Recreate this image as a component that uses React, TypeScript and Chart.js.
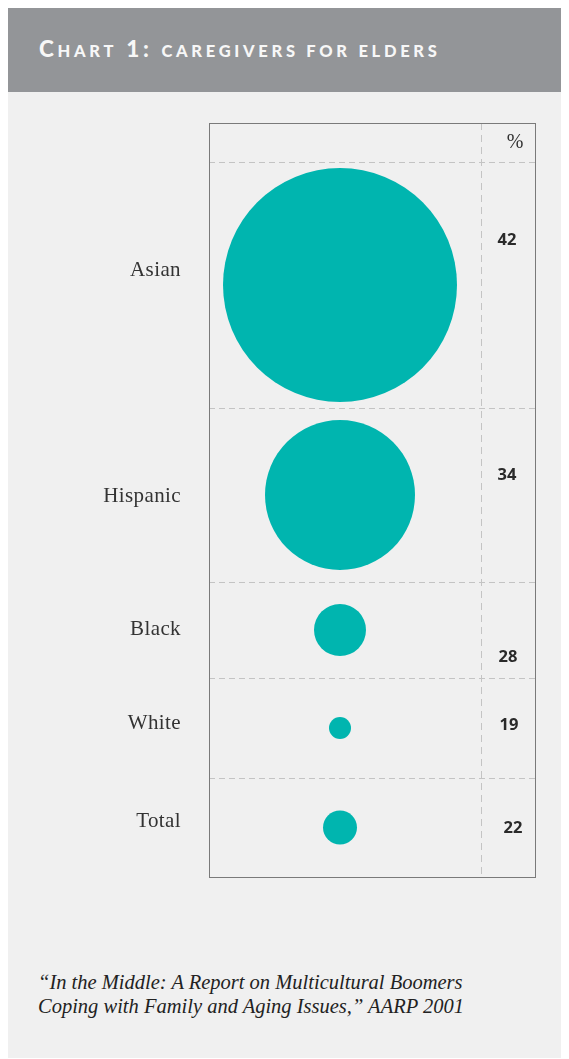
import React, { useEffect, useRef } from "react";
import { Chart, registerables } from "chart.js";

Chart.register(...registerables);

// ---- data ----
const categories = ["Asian", "Hispanic", "Black", "White", "Total"];
const percentages = [42, 34, 28, 19, 22];
const bubbleRadii = [117, 75, 26, 11, 17];
const unitLabel = "%";
const titleParts = [
  { t: "C", big: true },
  { t: "HART", big: false },
  { t: " 1: ", big: true },
  { t: "CAREGIVERS FOR ELDERS", big: false },
];
const sourceLines = [
  "\u201CIn the Middle: A Report on Multicultural Boomers",
  "Coping with Family and Aging Issues,\u201D AARP 2001",
];

// ---- layout (in chart units) ----
const X_MAX = 326;
const Y_MAX = 754;
const rowEdges = [0, 39, 285, 459, 555, 655, 754];
const bubbleColumnX = 131;
const dividerX = 272;
const valueX = [298, 298, 299, 300, 304];
const valueY = [117, 352, 534, 602, 705];
const labelY = [147, 373, 506, 600, 698];
const LABEL_RIGHT = -28; // px left of chart area

const TEAL = "#00b5af";

const framePlugin = {
  id: "frame",
  beforeDatasetsDraw(chart: any) {
    const { ctx, chartArea, scales } = chart;
    const { left, right, top, bottom } = chartArea;
    const xs = scales.x;
    const ys = scales.y;
    ctx.save();
    ctx.strokeStyle = "#c4c4c4";
    ctx.lineWidth = 1;
    ctx.setLineDash([6, 4]);
    for (let i = 1; i < rowEdges.length - 1; i++) {
      const y = Math.round(ys.getPixelForValue(rowEdges[i])) + 0.5;
      ctx.beginPath();
      ctx.moveTo(left, y);
      ctx.lineTo(right, y);
      ctx.stroke();
    }
    const vx = Math.round(xs.getPixelForValue(dividerX)) + 0.5;
    ctx.setLineDash([7, 5]);
    ctx.beginPath();
    ctx.moveTo(vx, top);
    ctx.lineTo(vx, bottom);
    ctx.stroke();
    ctx.restore();
  },
  afterDatasetsDraw(chart: any) {
    const { ctx, chartArea, scales } = chart;
    const { left, right, top, bottom } = chartArea;
    const xs = scales.x;
    const ys = scales.y;
    ctx.save();
    ctx.strokeStyle = "#7a7a7a";
    ctx.lineWidth = 1;
    ctx.strokeRect(Math.round(left) + 0.5, Math.round(top) + 0.5, Math.round(right - left), Math.round(bottom - top));
    ctx.fillStyle = "#333";
    ctx.font = '20px "Liberation Serif", serif';
    ctx.textAlign = "center";
    ctx.textBaseline = "middle";
    ctx.fillText(unitLabel, xs.getPixelForValue(306), ys.getPixelForValue(20));
    ctx.font = '21px "Liberation Serif", serif';
    (ctx as any).letterSpacing = "0.4px";
    ctx.textAlign = "right";
    categories.forEach((c, i) => {
      ctx.fillText(c, left + LABEL_RIGHT, ys.getPixelForValue(labelY[i]));
    });
    (ctx as any).letterSpacing = "0px";
    ctx.font = 'bold 16.5px "Open Sans", sans-serif';
    ctx.textAlign = "center";
    ctx.fillStyle = "#2a2a2a";
    percentages.forEach((v, i) => {
      ctx.fillText(String(v), xs.getPixelForValue(valueX[i]), ys.getPixelForValue(valueY[i]));
    });
    ctx.restore();
  },
};

export default function App() {
  const ref = useRef<HTMLCanvasElement | null>(null);
  useEffect(() => {
    if (!ref.current) return;
    const chart = new Chart(ref.current, {
      type: "bubble",
      data: {
        datasets: [
          {
            label: "Caregivers for elders (%)",
            data: categories.map((c, i) => ({
              x: bubbleColumnX,
              y: (rowEdges[i + 1] + rowEdges[i + 2]) / 2,
              r: bubbleRadii[i],
            })),
            backgroundColor: TEAL,
            borderColor: TEAL,
            borderWidth: 0,
            hoverRadius: 0,
            clip: false,
          },
        ],
      },
      options: {
        animation: false,
        responsive: true,
        maintainAspectRatio: false,
        layout: { autoPadding: false, padding: { left: 201, right: 34, top: 31, bottom: 23 } },
        plugins: { legend: { display: false }, tooltip: { enabled: false }, title: { display: false } },
        scales: {
          x: { type: "linear", min: 0, max: X_MAX, display: false },
          y: { type: "linear", min: 0, max: Y_MAX, reverse: true, display: false },
        },
      },
      plugins: [framePlugin],
    });
    return () => chart.destroy();
  }, []);

  return (
    <div
      style={{
        position: "relative",
        width: 561,
        height: 1050,
        background: "#f0f0f0",
        overflow: "hidden",
      }}
    >
      <div style={{ height: 84, background: "#939598", position: "relative" }}>
        <div
          style={{
            position: "absolute",
            left: 31,
            top: 27,
            color: "#f7f7f7",
            fontFamily: "Lato, sans-serif",
            fontWeight: 900,
            letterSpacing: 3.7,
            whiteSpace: "nowrap",
            lineHeight: "28px",
          }}
        >
          {titleParts.map((p, i) => (
            <span key={i} style={{ fontSize: p.big ? 22.5 : 16.5 }}>
              {p.t}
            </span>
          ))}
        </div>
      </div>
      <div style={{ position: "absolute", left: 0, top: 84, width: 561, height: 808 }}>
        <canvas ref={ref} />
      </div>
      <div
        style={{
          position: "absolute",
          left: 30,
          top: 962,
          fontFamily: '"Liberation Serif", serif',
          fontStyle: "italic",
          fontSize: 20.5,
          lineHeight: "24px",
          color: "#222",
          whiteSpace: "nowrap",
        }}
      >
        {sourceLines.map((l, i) => (
          <div key={i}>{l}</div>
        ))}
      </div>
    </div>
  );
}
